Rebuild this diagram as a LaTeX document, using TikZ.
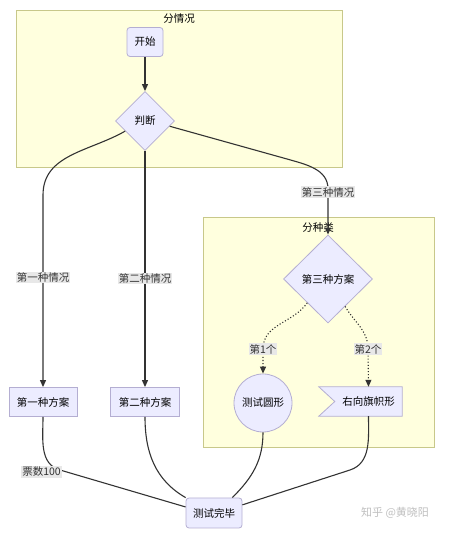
\documentclass[tikz,border=0pt]{standalone}
\usepackage{fontspec}
\setmainfont{Noto Sans CJK SC}
\usepackage{xcolor}
\usepackage{tikz}
\usetikzlibrary{arrows.meta,shapes.geometric}
\definecolor{clusterfill}{HTML}{FFFFDE}
\definecolor{clusterline}{HTML}{C8C88A}
\definecolor{nodefill}{HTML}{ECECFF}
\definecolor{nodeline}{HTML}{B4AED2}
\definecolor{edgeline}{HTML}{333333}
\definecolor{labelfill}{HTML}{E8E8E8}

\begin{document}
\begin{tikzpicture}[x=1pt,y=1pt,
    font=\fontsize{10.5}{12}\selectfont,
    cluster/.style={draw=clusterline,fill=clusterfill,line width=0.8pt},
    box/.style={draw=nodeline,fill=nodefill,line width=0.8pt,minimum height=29pt,inner sep=2pt},
    rbox/.style={box,rounded corners=3pt},
    dia/.style={draw=nodeline,fill=nodefill,line width=0.8pt,diamond,inner sep=0pt},
    elabel/.style={fill=labelfill,inner sep=1pt,text=black!80},
    link/.style={draw=edgeline,line width=1.1pt},
    arrowlink/.style={link,-{Triangle[length=7pt,width=6pt]}},
    dotlink/.style={arrowlink,dotted}]
    \useasboundingbox (0,0) rectangle (453,535);
    % Subgraphs
    \draw[cluster] (16,368) rectangle (342,525);
    \node at (179,516) {分情况};
    \draw[cluster] (203,88) rectangle (434,318);
    \node at (318,307) {分种类};
    % Nodes
    \node[rbox,minimum width=36pt] (start) at (145,493) {开始};
    \node[dia,minimum width=59pt,minimum height=59pt] (judge) at (145,414) {判断};
    \node[box,minimum width=68pt] (plan1) at (43,133) {第一种方案};
    \node[box,minimum width=69pt] (plan2) at (145,133) {第二种方案};
    \node[dia,minimum width=89pt,minimum height=88pt] (plan3) at (328,256) {第三种方案};
    \node[circle,draw=nodeline,fill=nodefill,line width=0.8pt,minimum size=58pt,inner sep=0pt] (circ) at (263,132) {测试圆形};
    \node[minimum width=67pt,minimum height=29pt,inner sep=0pt] (flag) at (368.5,133.5) {};
    \filldraw[draw=nodeline,fill=nodefill,line width=0.8pt]
      (flag.north east) -- (flag.south east) -- ([xshift=-16pt]flag.south west)
      -- (flag.west) -- ([xshift=-16pt]flag.north west) -- cycle;
    \node at (flag.center) {右向旗帜形};
    \node[rbox,minimum width=56pt,minimum height=30pt] (done) at (214,22) {测试完毕};
    % Edges from start
    \draw[arrowlink] (start) -- (judge);
    \draw[arrowlink] (judge.207) to[out=210,in=90] (43,340)
      -- node[elabel,pos=0.43] {第一种情况} (plan1.north);
    \draw[arrowlink] (judge.south) -- node[elabel,pos=0.54] {第二种情况} (plan2.north);
    \draw[arrowlink] (judge.-12) -- (287,376) to[out=-16,in=90] (328,346)
      -- node[elabel,pos=0.07] {第三种情况} (plan3.north);
    % Inside plan3
    \draw[dotlink] (plan3.229) to[out=235,in=90] (263,186) node[elabel] {第1个} -- (circ.north);
    \draw[dotlink] (plan3.-58) to[out=-60,in=90] (368,186) node[elabel] {第2个} -- (flag.north);
    % Edges to done
    \draw[link] (plan1.south) to[out=-90,in=164] (60,65) -- (done.168);
    \node[elabel,anchor=east] (votes) at (62,63) {票数100};
    \draw[link] (plan2.south) to[out=-90,in=150] (done.north west);
    \draw[link] (circ.south) to[out=-90,in=45] (done.40);
    \draw[link] (flag.south) to[out=-90,in=18] (350,65) -- (done.16);
    % Watermark
    \node[text=black!25,font=\fontsize{11}{13}\selectfont] (mark) at (395,22) {知乎 @黄晓阳};
\end{tikzpicture}
\end{document}
